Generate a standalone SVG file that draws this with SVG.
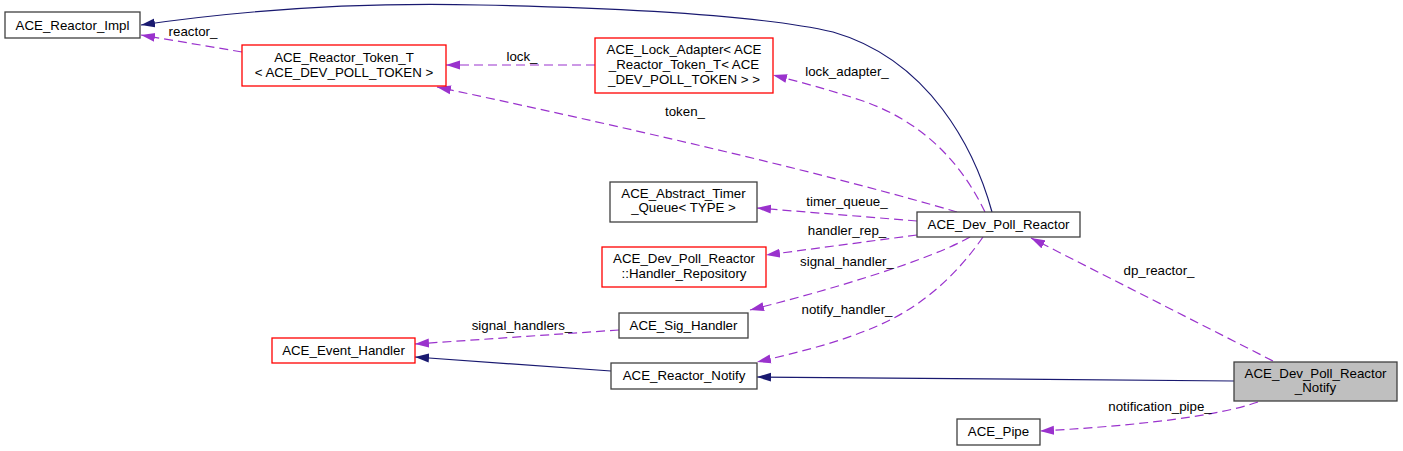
<svg xmlns="http://www.w3.org/2000/svg" width="1403" height="451" viewBox="0 0 1403 451">
<style>
text{font-family:"Liberation Sans",Arial,sans-serif;font-size:13.3px;fill:#000;text-anchor:middle}
.n{fill:#fff;stroke:#404040;stroke-width:1.3}
.r{fill:#fff;stroke:#ff0000;stroke-width:1.3}
.h{fill:#bfbfbf;stroke:#404040;stroke-width:1.3}
.inh{fill:none;stroke:#191970;stroke-width:1.2;marker-end:url(#an)}
.use{fill:none;stroke:#9a32cd;stroke-width:1.2;stroke-dasharray:9,5;marker-end:url(#ap)}
</style>
<defs>
<marker id="an" markerUnits="userSpaceOnUse" markerWidth="15" markerHeight="10" refX="14" refY="5" orient="auto"><path d="M0,0.5 L14,5 L0,9.5 z" fill="#191970"/></marker>
<marker id="ap" markerUnits="userSpaceOnUse" markerWidth="15" markerHeight="10" refX="14" refY="5" orient="auto"><path d="M0,0.5 L14,5 L0,9.5 z" fill="#9a32cd"/></marker>
</defs>
<rect width="1403" height="451" fill="#fff"/>
<g id="connectors">
<path class="inh" d="M992,212 C975,150 930,60 833,32 C760,15 620,8 480,5 C350,2 230,12 141,25"/>
<path class="use" d="M242,52 L141,35"/>
<path class="use" d="M595,65 L446,65"/>
<path class="use" d="M957,212 Q780,160 437,87"/>
<path class="use" d="M985,212 C960,160 920,120 860,100 C830,90 800,82 773,75"/>
<path class="use" d="M917,221 L757,208"/>
<path class="use" d="M917,235 L766,255"/>
<path class="use" d="M970,237 C930,260 830,290 750,310"/>
<path class="use" d="M983,237 C960,270 930,300 890,320 C850,340 800,352 757,362"/>
<path class="use" d="M619,330 L415,344"/>
<path class="inh" d="M611,371 L415,357"/>
<path class="inh" d="M1234,381 L757,377"/>
<path class="use" d="M1273,361 L1031,238"/>
<path class="use" d="M1258,402 C1220,415 1150,425 1040,431"/>
<text x="193" y="36">reactor_</text>
<text x="522" y="61">lock_</text>
<text x="685" y="116">token_</text>
<text x="847" y="76">lock_adapter_</text>
<text x="847" y="206">timer_queue_</text>
<text x="847" y="235">handler_rep_</text>
<text x="847" y="266">signal_handler_</text>
<text x="847" y="314">notify_handler_</text>
<text x="522" y="330">signal_handlers_</text>
<text x="1159" y="275">dp_reactor_</text>
<text x="1160" y="411">notification_pipe_</text>
</g>
<g id="ACE_Reactor_Impl"><rect class="n" x="5" y="12" width="135" height="26"/><text x="72.5" y="30">ACE_Reactor_Impl</text></g>
<g id="ACE_Reactor_Token_T"><rect class="r" x="242" y="45" width="204" height="41"/><text x="344" y="62">ACE_Reactor_Token_T</text><text x="344" y="77">&lt; ACE_DEV_POLL_TOKEN &gt;</text></g>
<g id="ACE_Lock_Adapter"><rect class="r" x="595" y="38" width="178" height="55"/><text x="684" y="54">ACE_Lock_Adapter&lt; ACE</text><text x="684" y="69">_Reactor_Token_T&lt; ACE</text><text x="684" y="84">_DEV_POLL_TOKEN &gt; &gt;</text></g>
<g id="ACE_Abstract_Timer_Queue"><rect class="n" x="610" y="182" width="147" height="40"/><text x="683.5" y="198">ACE_Abstract_Timer</text><text x="683.5" y="212">_Queue&lt; TYPE &gt;</text></g>
<g id="ACE_Dev_Poll_Reactor"><rect class="n" x="917" y="212" width="163" height="25"/><text x="998.5" y="229">ACE_Dev_Poll_Reactor</text></g>
<g id="ACE_Handler_Repository"><rect class="r" x="602" y="247" width="164" height="40"/><text x="684" y="263">ACE_Dev_Poll_Reactor</text><text x="684" y="278">::Handler_Repository</text></g>
<g id="ACE_Sig_Handler"><rect class="n" x="619" y="313" width="129" height="25"/><text x="683.5" y="330">ACE_Sig_Handler</text></g>
<g id="ACE_Event_Handler"><rect class="r" x="272" y="338" width="143" height="25"/><text x="343.5" y="355">ACE_Event_Handler</text></g>
<g id="ACE_Reactor_Notify"><rect class="n" x="611" y="363" width="146" height="26"/><text x="684" y="380">ACE_Reactor_Notify</text></g>
<g id="ACE_Dev_Poll_Reactor_Notify"><rect class="h" x="1234" y="362" width="163" height="39"/><text x="1315.5" y="378">ACE_Dev_Poll_Reactor</text><text x="1315.5" y="392">_Notify</text></g>
<g id="ACE_Pipe"><rect class="n" x="957" y="419" width="83" height="26"/><text x="998.5" y="436">ACE_Pipe</text></g>
</svg>
